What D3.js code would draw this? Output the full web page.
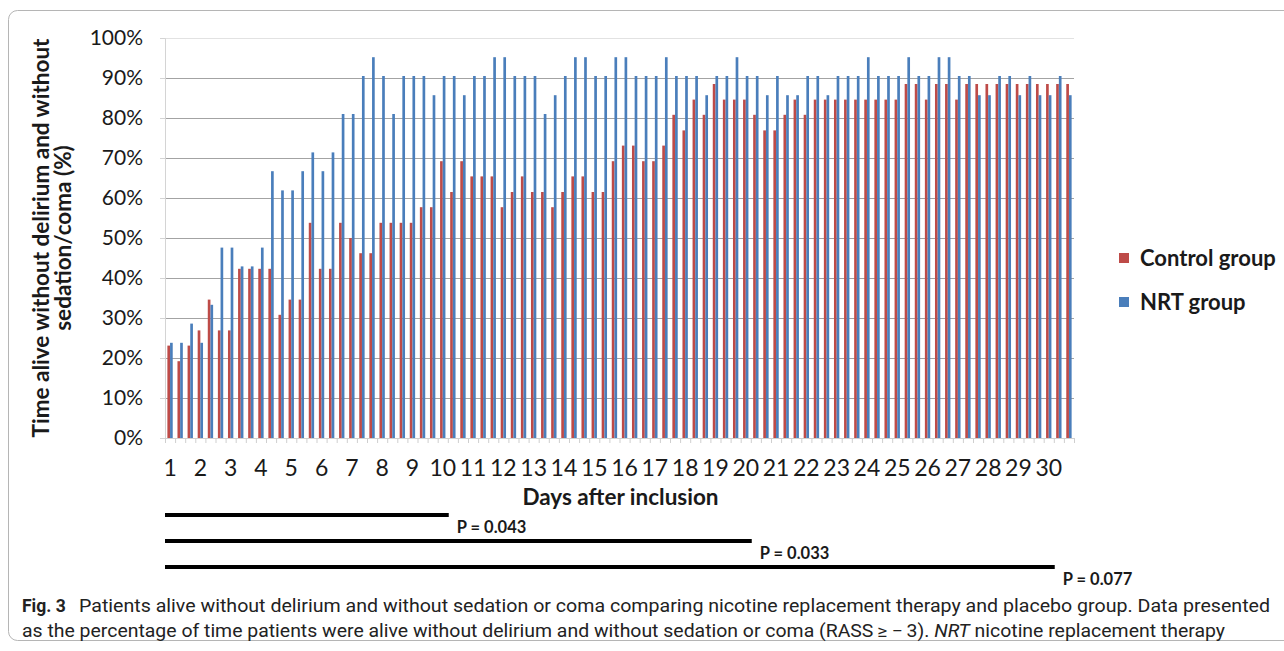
<!DOCTYPE html>
<html lang="en">
<head>
<meta charset="UTF-8">
<title>Fig. 3</title>
<script src="https://d3js.org/d3.v7.min.js"></script>
<style>
  body { margin: 0; background: #fff; }
  svg text { font-family: Lato, "Open Sans", sans-serif; fill: #1a1a1a; }
  .grid line { stroke: #a3a3a3; }
  .grid .domain { display: none; }
  .yaxis .domain, .yaxis line { stroke: #d4d4d4; }
  .yaxis text { font-size: 21px; }
  .base .domain, .base line { stroke: #cfcfcf; }
  .days .domain { display: none; }
  .days text { font-size: 23px; }
  .title { font-weight: bold; font-size: 22.5px; }
  .legend text { font-weight: bold; font-size: 22px; }
  .ptext { font-weight: bold; font-size: 16.5px; }
  .caption { font-family: "Liberation Sans Narrow", "Roboto", sans-serif; font-size: 17.5px; fill: #222; }
</style>
</head>
<body>
<svg id="chart" width="1284" height="651"></svg>
<script>
// values, 3 periods per day, days 1-30
var control = [
  23.1, 19.2, 23.1, 26.9, 34.6, 26.9, 26.9, 42.3, 42.3, 42.3,
  42.3, 30.8, 34.6, 34.6, 53.8, 42.3, 42.3, 53.8, 50.0, 46.2,
  46.2, 53.8, 53.8, 53.8, 53.8, 57.7, 57.7, 69.2, 61.5, 69.2,
  65.4, 65.4, 65.4, 57.7, 61.5, 65.4, 61.5, 61.5, 57.7, 61.5,
  65.4, 65.4, 61.5, 61.5, 69.2, 73.1, 73.1, 69.2, 69.2, 73.1,
  80.8, 76.9, 84.6, 80.8, 88.5, 84.6, 84.6, 84.6, 80.8, 76.9,
  76.9, 80.8, 84.6, 80.8, 84.6, 84.6, 84.6, 84.6, 84.6, 84.6,
  84.6, 84.6, 84.6, 88.5, 88.5, 84.6, 88.5, 88.5, 84.6, 88.5,
  88.5, 88.5, 88.5, 88.5, 88.5, 88.5, 88.5, 88.5, 88.5, 88.5
];
var nrt = [
  23.8, 23.8, 28.6, 23.8, 33.3, 47.6, 47.6, 42.9, 42.9, 47.6,
  66.7, 61.9, 61.9, 66.7, 71.4, 66.7, 71.4, 81.0, 81.0, 90.5,
  95.2, 90.5, 81.0, 90.5, 90.5, 90.5, 85.7, 90.5, 90.5, 85.7,
  90.5, 90.5, 95.2, 95.2, 90.5, 90.5, 90.5, 81.0, 85.7, 90.5,
  95.2, 95.2, 90.5, 90.5, 95.2, 95.2, 90.5, 90.5, 90.5, 95.2,
  90.5, 90.5, 90.5, 85.7, 90.5, 90.5, 95.2, 90.5, 90.5, 85.7,
  90.5, 85.7, 85.7, 90.5, 90.5, 85.7, 90.5, 90.5, 90.5, 95.2,
  90.5, 90.5, 90.5, 95.2, 90.5, 90.5, 95.2, 95.2, 90.5, 90.5,
  85.7, 85.7, 90.5, 90.5, 85.7, 90.5, 85.7, 85.7, 90.5, 85.7
];
var dayLabels = ["1","2","3","4","5","6","7","8","9","10","11","12","13","14","15",
  "16","17","18","19","20","21","22","23","24","25","26","27","28","29","30"];
var perDay = 3;
var yTicks = [0, 10, 20, 30, 40, 50, 60, 70, 80, 90, 100];
var seriesNames = ["Control group", "NRT group"];
var colors = ["#BE4B48", "#4A7EBB"];
var pTests = [
  { lastDay: 10, label: "P = 0.043" },
  { lastDay: 20, label: "P = 0.033" },
  { lastDay: 30, label: "P = 0.077" }
];

var margin = { top: 38, left: 165 },
    width = 909,
    height = 400;

var svg = d3.select("#chart");

// figure frame
svg.append("rect")
    .attr("x", 8.5).attr("y", 10.5)
    .attr("width", 1300).attr("height", 630)
    .attr("rx", 9)
    .attr("fill", "none").attr("stroke", "#b5b5b5");

var g = svg.append("g")
    .attr("transform", "translate(" + margin.left + "," + margin.top + ")");

var x = d3.scaleBand()
    .domain(d3.range(control.length))
    .range([0, width])
    .paddingInner(0.47)
    .paddingOuter(0.235);

var xSub = d3.scaleBand().domain([0, 1]).range([0, x.bandwidth()]);

var y = d3.scaleLinear().domain([0, 100]).range([height, 0]);

// gridlines
var grid = g.append("g")
    .attr("class", "grid")
    .call(d3.axisLeft(y).tickValues(yTicks.slice(1)).tickSize(-width).tickFormat(""));
grid.selectAll(".tick line").filter(function(d) { return d === 100; }).style("stroke", "#e2e2e2");

// y axis
g.append("g")
    .attr("class", "yaxis")
    .call(d3.axisLeft(y).tickValues(yTicks).tickSize(5).tickPadding(17)
      .tickFormat(function(d) { return d + "%"; }));

// bars
var rows = control.map(function(c, i) { return { i: i, values: [c, nrt[i]] }; });

g.selectAll(".cat")
    .data(rows)
  .join("g")
    .attr("class", "cat")
    .attr("transform", function(d) { return "translate(" + x(d.i) + ",0)"; })
  .selectAll("rect")
    .data(function(d) { return d.values; })
  .join("rect")
    .attr("x", function(v, j) { return xSub(j); })
    .attr("width", xSub.bandwidth())
    .attr("y", function(v) { return y(v); })
    .attr("height", function(v) { return height - y(v); })
    .attr("fill", function(v, j) { return colors[j]; });

// baseline with category ticks
var bounds = d3.scaleLinear().domain([0, control.length]).range([0, width]);
g.append("g")
    .attr("class", "base")
    .attr("transform", "translate(0," + height + ")")
    .call(d3.axisBottom(bounds).tickValues(d3.range(0, control.length + 1)).tickSize(5).tickFormat(""));

// day labels
g.append("g")
    .attr("class", "days")
    .attr("transform", "translate(0," + height + ")")
    .call(d3.axisBottom(x)
      .tickValues(d3.range(0, control.length, perDay))
      .tickSize(0).tickPadding(22)
      .tickFormat(function(k) { return dayLabels[k / perDay]; }));

// axis titles
g.append("text")
    .attr("class", "title")
    .attr("x", width / 2 + 1).attr("y", height + 67)
    .attr("text-anchor", "middle")
    .text("Days after inclusion");

var yt = svg.append("text")
    .attr("class", "title")
    .attr("transform", "translate(49,238) rotate(-90)")
    .attr("text-anchor", "middle");
yt.append("tspan").attr("x", 0).attr("dy", 0).text("Time alive without delirium and without");
yt.append("tspan").attr("x", 0).attr("dy", 22).text("sedation/coma (%)");

// legend
var legend = svg.append("g").attr("class", "legend")
    .attr("transform", "translate(1119,258)");
var items = legend.selectAll("g")
    .data(seriesNames)
  .join("g")
    .attr("transform", function(d, i) { return "translate(0," + i * 44 + ")"; });
items.append("rect")
    .attr("x", 0).attr("y", -5)
    .attr("width", 10).attr("height", 10)
    .attr("fill", function(d, i) { return colors[i]; });
items.append("text")
    .attr("x", 21).attr("dy", "0.35em")
    .text(function(d) { return d; });

// significance bars
var pg = g.append("g").attr("transform", "translate(0," + (height + 77) + ")");
pTests.forEach(function(p, i) {
  var k = (p.lastDay - 1) * perDay;
  var xEnd = x(k) + x.bandwidth() / 2 + 6;
  var yy = i * 26;
  pg.append("line")
      .attr("x1", 0).attr("x2", xEnd)
      .attr("y1", yy).attr("y2", yy)
      .attr("stroke", "#000").attr("stroke-width", 4);
  pg.append("text")
      .attr("class", "ptext")
      .attr("x", xEnd + 8).attr("y", yy + 18)
      .text(p.label);
});

// caption
var c1 = svg.append("text").attr("class", "caption").attr("y", 612);
c1.append("tspan").attr("x", 22).style("font-weight", "bold").text("Fig. 3");
svg.append("text").attr("class", "caption")
    .attr("x", 79).attr("y", 612)
    .attr("textLength", 1191).attr("lengthAdjust", "spacingAndGlyphs")
    .text("Patients alive without delirium and without sedation or coma comparing nicotine replacement therapy and placebo group. Data presented");
var c2 = svg.append("text").attr("class", "caption")
    .attr("x", 22).attr("y", 637)
    .attr("textLength", 1203).attr("lengthAdjust", "spacingAndGlyphs");
c2.append("tspan").text("as the percentage of time patients were alive without delirium and without sedation or coma (RASS\u2009\u2265\u2009\u2212\u20093). ");
c2.append("tspan").style("font-style", "italic").text("NRT");
c2.append("tspan").text(" nicotine replacement therapy");
</script>
</body>
</html>
